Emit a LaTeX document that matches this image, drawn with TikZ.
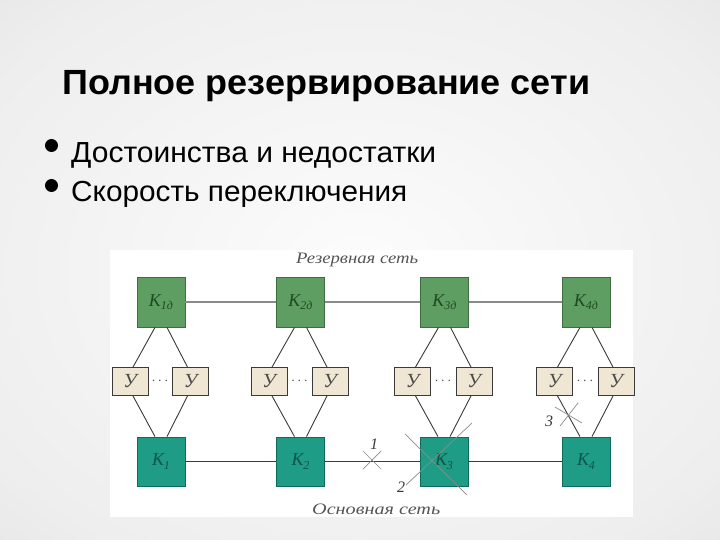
\documentclass[tikz,border=0pt]{standalone}
\usepackage{fontspec}
\usepackage{graphicx}
\setmainfont{Liberation Serif}
\newfontfamily\arialf{Liberation Sans}
\definecolor{bgin}{HTML}{FCFCFC}
\definecolor{bgmid}{HTML}{EEEEEE}
\definecolor{bgout}{HTML}{C8C8C8}
\definecolor{kdf}{HTML}{5E9E62}
\definecolor{kdb}{HTML}{3E6E40}
\definecolor{kdt}{HTML}{1E4A22}
\definecolor{kbf}{HTML}{1E9C86}
\definecolor{kbb}{HTML}{0F6A5A}
\definecolor{kbt}{HTML}{0C5448}
\definecolor{ybf}{HTML}{EFE7D3}
\definecolor{ybd}{HTML}{3A3A3A}
\definecolor{ytx}{HTML}{4A4A4A}
\definecolor{topl}{HTML}{8A8A8A}
\definecolor{botl}{HTML}{3A3A3A}
\definecolor{crossc}{HTML}{8C8C8C}
\definecolor{lblc}{HTML}{555555}
\pgfdeclareradialshading{bgshade}{\pgfpoint{0bp}{0bp}}{color(0bp)=(bgin); color(30bp)=(bgmid); color(72bp)=(bgout)}
\newcommand\kfont{\itshape\fontsize{18}{18}\selectfont}
\newcommand\ksub[1]{\raisebox{-0.2em}{\fontsize{12}{12}\selectfont #1}}
\begin{document}
\begin{tikzpicture}[x=1pt,y=-1pt,
  kd/.style={draw=kdb, fill=kdf, minimum width=48pt, minimum height=50pt, inner sep=0pt, line width=0.8pt, text=kdt, font=\kfont},
  kb/.style={draw=kbb, fill=kbf, minimum width=48pt, minimum height=49pt, inner sep=0pt, line width=0.8pt, text=kbt, font=\kfont},
  ybox/.style={draw=ybd, fill=ybf, minimum width=36pt, minimum height=28pt, inner sep=0pt, line width=0.8pt, text=ytx, font=\itshape\fontsize{20}{20}\selectfont},
  dotsl/.style={text=ytx, font=\fontsize{14}{14}\selectfont, inner sep=0pt},
  topline/.style={draw=topl, line width=1.2pt},
  botline/.style={draw=botl, line width=0.9pt},
  link/.style={draw=botl, line width=0.9pt},
  cross/.style={draw=crossc, line width=0.7pt},
  numlbl/.style={text=ybd, font=\itshape\fontsize{16}{16}\selectfont, inner sep=0pt},
  netlbl/.style={text=lblc, font=\itshape\fontsize{16}{16}\selectfont, inner sep=0pt, anchor=base west},
]
\useasboundingbox (0,0) rectangle (720,540);
\shade[shading=bgshade] (0,0) rectangle (720,540);

% title and bullets
\node[anchor=base west, inner sep=0pt, font=\arialf\bfseries\fontsize{35}{35}\selectfont] (title) at (62,95)
  {\resizebox{528pt}{\height}{Полное резервирование сети}};
\node[anchor=base west, inner sep=0pt, font=\arialf\fontsize{29}{29}\selectfont] (b1) at (71,163)
  {\resizebox{365pt}{\height}{Достоинства и недостатки}};
\node[anchor=base west, inner sep=0pt, font=\arialf\fontsize{29}{29}\selectfont] (b2) at (71,201)
  {\resizebox{336pt}{\height}{Скорость переключения}};
\fill[black] (51.5,145.5) circle (6.5pt);
\fill[black] (51.5,185.5) circle (6.5pt);

% panel
\fill[white] (110,250) rectangle (633,517);

\node[netlbl] (rnet) at (296,263) {\resizebox{122pt}{\height}{Резервная сеть}};
\node[netlbl] (onet) at (312,514) {\resizebox{128pt}{\height}{Основная сеть}};

% top K
\node[kd] (kd1) at (161,302) {К\ksub{1д}};
\node[kd] (kd2) at (300.5,302) {К\ksub{2д}};
\node[kd] (kd3) at (444.5,302) {К\ksub{3д}};
\node[kd] (kd4) at (586,302) {К\ksub{4д}};
% bottom K
\node[kb] (k1) at (161,461.5) {К\ksub{1}};
\node[kb] (k2) at (300.5,461.5) {К\ksub{2}};
\node[kb] (k3) at (444,461.5) {К\ksub{3}};
\node[kb] (k4) at (586,461.5) {К\ksub{4}};
% Y boxes
\node[ybox] (y11) at (130,381.5) {У};
\node[ybox] (y12) at (190.5,381.5) {У};
\node[ybox] (y21) at (269,381.5) {У};
\node[ybox] (y22) at (330,381.5) {У};
\node[ybox] (y31) at (412.5,381.5) {У};
\node[ybox] (y32) at (474,381.5) {У};
\node[ybox] (y41) at (554.5,381.5) {У};
\node[ybox] (y42) at (616,381.5) {У};
\node[dotsl] (d1) at (160,381) {$\cdots$};
\node[dotsl] (d2) at (299.5,381) {$\cdots$};
\node[dotsl] (d3) at (443,381) {$\cdots$};
\node[dotsl] (d4) at (585,381) {$\cdots$};

% networks
\draw[topline] (kd1) -- (kd2);
\draw[topline] (kd2) -- (kd3);
\draw[topline] (kd3) -- (kd4);
\draw[botline] (k1) -- (k2);
\draw[botline] (k2) -- (k3);
\draw[botline] (k3) -- (k4);

% links
\foreach \i in {1,2,3,4}{
  \draw[link] ([xshift=-6pt]kd\i.south) -- ([xshift=3pt]y\i1.north);
  \draw[link] ([xshift=6pt]kd\i.south) -- ([xshift=-3pt]y\i2.north);
  \draw[link] ([xshift=3pt]y\i1.south) -- ([xshift=-6pt]k\i.north);
  \draw[link] ([xshift=-3pt]y\i2.south) -- ([xshift=6pt]k\i.north);
}

% failures
\coordinate (c1) at (372,460);
\draw[cross] ([shift={(-9,-9)}]c1) -- ([shift={(9,9)}]c1);
\draw[cross] ([shift={(-9,9)}]c1) -- ([shift={(9,-9)}]c1);
\node[numlbl] (n1) at (374,444) {1};
\coordinate (c2a) at (405,434);
\coordinate (c2b) at (467,495);
\coordinate (c2c) at (406,485);
\coordinate (c2d) at (472,423);
\draw[cross] (c2a) -- (c2b);
\draw[cross] (c2c) -- (c2d);
\node[numlbl] (n2) at (401,487) {2};
\coordinate (c3a) at (555,407);
\coordinate (c3b) at (582,423);
\coordinate (c3c) at (560,426);
\coordinate (c3d) at (578,403);
\draw[cross] (c3a) -- (c3b);
\draw[cross] (c3c) -- (c3d);
\node[numlbl] (n3) at (549,421) {3};
\end{tikzpicture}
\end{document}
